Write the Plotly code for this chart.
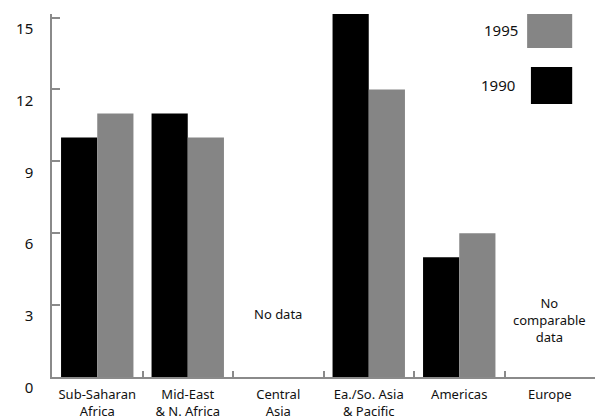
import plotly.graph_objects as go

regions = [
    "Sub-Saharan<br>Africa",
    "Mid-East<br>& N. Africa",
    "Central<br>Asia",
    "Ea./So. Asia<br>& Pacific",
    "Americas",
    "Europe",
]
values_1990 = [10, 11, None, 16, 5, None]
values_1995 = [11, 10, None, 12, 6, None]
y_ticks = [0, 3, 6, 9, 12, 15]

FONT = "'Noto Sans', Lato, sans-serif"
AXIS_GRAY = "#8a8a8a"

fig = go.Figure()
fig.add_trace(go.Bar(x=regions, y=values_1990, name="1990", marker=dict(color="#000000", line_width=0)))
fig.add_trace(go.Bar(x=regions, y=values_1995, name="1995", marker=dict(color="#858585", line_width=0)))

# notes for missing regions
fig.add_annotation(x=regions[2], y=2.65, text="No data", showarrow=False,
                   font=dict(family=FONT, size=13, color="#111"), yanchor="middle")
fig.add_annotation(x=regions[5], y=2.4, text="No<br>comparable<br>data", showarrow=False,
                   font=dict(family=FONT, size=13, color="#111"), yanchor="middle")

# legend drawn as large swatches, top right
fig.add_shape(type="rect", xref="paper", yref="paper", x0=0.875, x1=0.958, y0=0.906, y1=1.0,
              fillcolor="#858585", line_width=0)
fig.add_shape(type="rect", xref="paper", yref="paper", x0=0.882, x1=0.958, y0=0.752, y1=0.854,
              fillcolor="#000000", line_width=0)
fig.add_annotation(xref="paper", yref="paper", x=0.862, y=0.956, text="1995", showarrow=False,
                   xanchor="right", yanchor="middle", font=dict(family=FONT, size=15, color="#111"))
fig.add_annotation(xref="paper", yref="paper", x=0.857, y=0.804, text="1990", showarrow=False,
                   xanchor="right", yanchor="middle", font=dict(family=FONT, size=15, color="#111"))

fig.update_layout(
    width=595,
    height=418,
    barmode="group",
    bargap=0.2,
    bargroupgap=0,
    showlegend=False,
    plot_bgcolor="white",
    paper_bgcolor="white",
    font=dict(family=FONT, color="#111"),
    margin=dict(l=52, r=0, t=14, b=41),
)
fig.update_yaxes(
    range=[0, 15.15],
    tickvals=y_ticks,
    automargin=False,
    showgrid=False,
    zeroline=False,
    showline=True,
    linecolor=AXIS_GRAY,
    linewidth=1.5,
    ticks="inside",
    ticklen=8,
    tickcolor=AXIS_GRAY,
    tickwidth=1.5,
    ticklabelstandoff=14,
    ticklabelshift=11,
    tickfont=dict(size=15, color="#111"),
)
fig.update_xaxes(
    automargin=False,
    showgrid=False,
    showline=True,
    linecolor=AXIS_GRAY,
    linewidth=1.5,
    ticks="inside",
    tickson="boundaries",
    ticklen=6,
    tickcolor=AXIS_GRAY,
    tickwidth=1.5,
    ticklabelstandoff=5,
    tickfont=dict(size=13, color="#111"),
)

# drop the browser's default body margin so the figure sits at the page corner
fig.write_html(
    "out.html",
    config={"displayModeBar": False},
    post_script="document.body.style.margin = '0';",
)
